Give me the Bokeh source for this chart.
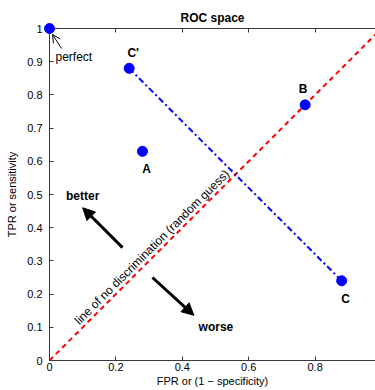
from bokeh.plotting import figure
from bokeh.models import Arrow, NormalHead, OpenHead, LinearAxis, FixedTicker, Label, Range1d
from bokeh.embed import file_html
from bokeh.resources import INLINE
import math

# ---- data ----
point_names = ["perfect", "C'", "B", "A", "C"]
point_fpr = [0.0, 0.24, 0.77, 0.28, 0.88]
point_tpr = [1.0, 0.88, 0.77, 0.63, 0.24]

mirror_names = ["C'", "C"]          # endpoints of the dash-dot line
diag_fpr = [0.0, 1.0]               # line of no discrimination
diag_tpr = [0.0, 1.0]

x_ticks = [0.0, 0.2, 0.4, 0.6, 0.8]
x_tick_labels = ["0", "0.2", "0.4", "0.6", "0.8"]
y_ticks = [0.0, 0.1, 0.2, 0.3, 0.4, 0.5, 0.6, 0.7, 0.8, 0.9, 1.0]
y_tick_labels = ["0", "0.1", "0.2", "0.3", "0.4", "0.5", "0.6", "0.7", "0.8", "0.9", "1"]

better_arrow = [(0.22, 0.34), (0.10, 0.46)]   # (tail, head)
worse_arrow = [(0.31, 0.25), (0.435, 0.136)]
perfect_arrow = [(0.036, 0.94), (0.009, 0.982)]

FONT = "Liberation Sans"
W, H = 375, 390
BL, BR, BT, BB = 49, 0, 28, 30
FW, FH = W - BL - BR, H - BT - BB

p = figure(
    width=W, height=H,
    x_range=Range1d(0, FW / FH), y_range=Range1d(0, 1),
    output_backend="svg", toolbar_location=None,
    min_border_left=BL, min_border_right=BR, min_border_top=BT, min_border_bottom=BB,
    x_axis_label="FPR or (1 \u2212 specificity)", y_axis_label="TPR or sensitivity",
    title="ROC space",
)
p.outline_line_color = None
p.grid.visible = False
p.background_fill_color = "white"
p.border_fill_color = "white"

p.title.text_font = FONT
p.title.text_font_size = "12px"
p.title.text_font_style = "bold"
p.title.align = "center"
p.title.text_color = "black"
p.title.standoff = 8

AX = "#3a3a3a"
for ax in (p.xaxis[0], p.yaxis[0]):
    ax.axis_line_color = AX
    ax.major_tick_line_color = AX
    ax.major_tick_in = 4
    ax.major_tick_out = 0
    ax.minor_tick_line_color = None
    ax.major_label_text_font = FONT
    ax.major_label_text_font_size = "11px"
    ax.major_label_text_color = "black"
    ax.axis_label_text_font = FONT
    ax.axis_label_text_font_size = "11px"
    ax.axis_label_text_font_style = "normal"
    ax.axis_label_text_color = "black"

p.xaxis[0].ticker = FixedTicker(ticks=x_ticks)
p.xaxis[0].major_label_overrides = {t: l for t, l in zip(x_ticks, x_tick_labels)}
p.xaxis[0].major_label_standoff = 2
p.xaxis[0].axis_label_standoff = 1
p.yaxis[0].ticker = FixedTicker(ticks=y_ticks)
p.yaxis[0].major_label_overrides = {t: l for t, l in zip(y_ticks, y_tick_labels)}
p.yaxis[0].major_label_standoff = 7
p.yaxis[0].axis_label_standoff = 6

top = LinearAxis(ticker=FixedTicker(ticks=x_ticks))
top.axis_line_color = AX
top.major_tick_line_color = AX
top.major_tick_in = 4
top.major_tick_out = 0
top.minor_tick_line_color = None
top.major_label_overrides = {t: "" for t in x_ticks}
top.major_label_standoff = 0
p.add_layout(top, "above")

# diagonal
p.line(diag_fpr, diag_tpr, line_color="red", line_width=2, line_dash="5 4")

# dash-dot between C' and C
i1, i2 = point_names.index(mirror_names[0]), point_names.index(mirror_names[1])
p.line([point_fpr[i1], point_fpr[i2]], [point_tpr[i1], point_tpr[i2]],
       line_color="blue", line_width=2, line_dash="6 3 2 3")

# points (overlay level so the corner point is not clipped by the frame)
p.scatter(point_fpr, point_tpr, size=10, fill_color="blue", line_color="blue", level="overlay")

# point labels
offsets = {"C'": (4, 8, "bottom"), "B": (-2, 9, "bottom"), "A": (4, -11, "top"), "C": (4, -11, "top")}
for name, fx, ty in zip(point_names, point_fpr, point_tpr):
    if name == "perfect":
        continue
    dx, dy, base = offsets[name]
    p.add_layout(Label(x=fx, y=ty, text=name, x_offset=dx, y_offset=dy,
                       text_font=FONT, text_font_size="12px", text_font_style="bold",
                       text_align="center", text_baseline=base, text_color="black"))

ip = point_names.index("perfect")
p.add_layout(Label(x=point_fpr[ip], y=point_tpr[ip], text="perfect", x_offset=6, y_offset=-28,
                   text_font=FONT, text_font_size="12px", text_align="left",
                   text_baseline="middle", text_color="black"))

# arrows
for (t, h) in (better_arrow, worse_arrow):
    p.add_layout(Arrow(end=NormalHead(size=12, fill_color="black", line_color="black"),
                       x_start=t[0], y_start=t[1], x_end=h[0], y_end=h[1],
                       line_color="black", line_width=3))
p.add_layout(Arrow(end=OpenHead(size=8, line_color="black", line_width=1),
                   x_start=perfect_arrow[0][0], y_start=perfect_arrow[0][1],
                   x_end=perfect_arrow[1][0], y_end=perfect_arrow[1][1],
                   line_color="black", line_width=1))

p.add_layout(Label(x=better_arrow[1][0], y=better_arrow[1][1], text="better", y_offset=12,
                   text_font=FONT, text_font_size="12px", text_font_style="bold",
                   text_align="center", text_baseline="middle", text_color="black"))
p.add_layout(Label(x=worse_arrow[1][0], y=worse_arrow[1][1], text="worse", x_offset=22, y_offset=-12,
                   text_font=FONT, text_font_size="12px", text_font_style="bold",
                   text_align="center", text_baseline="middle", text_color="black"))

# rotated diagonal caption, sitting just above the diagonal
p.add_layout(Label(x=0.325, y=0.325, text="line of no discrimination (random guess)",
                   angle=math.pi / 4, x_offset=-5.5, y_offset=5.5,
                   text_font=FONT, text_font_size="12px", text_align="center",
                   text_baseline="middle", text_color="black"))

open("out.html", "w").write(file_html(p, INLINE))
